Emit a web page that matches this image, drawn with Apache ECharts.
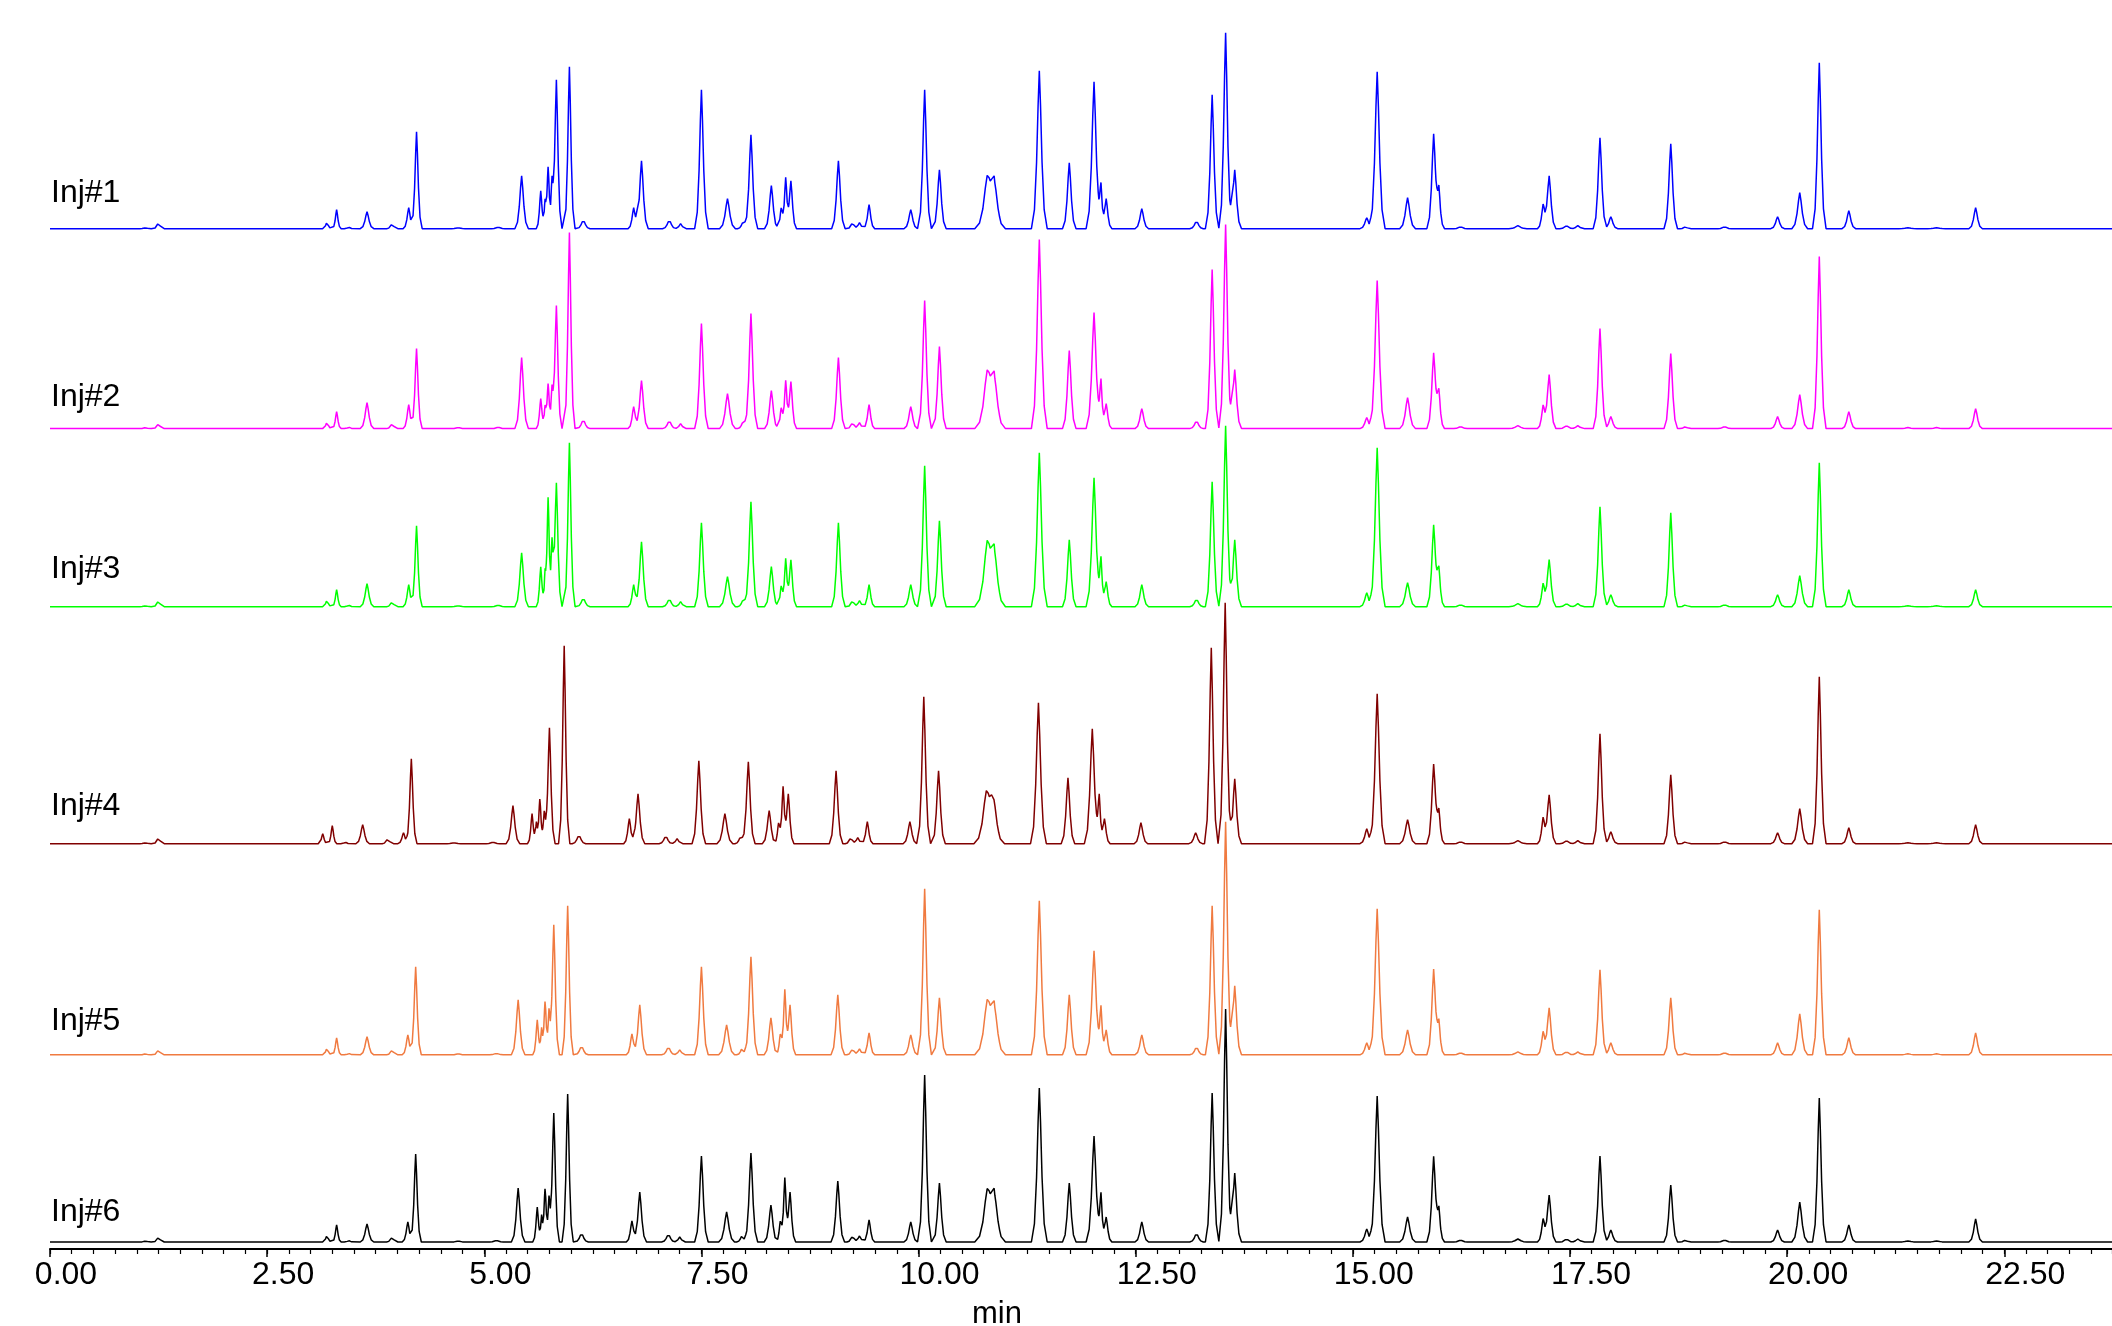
<!DOCTYPE html>
<html>
<head>
<meta charset="utf-8">
<script src="https://cdn.jsdelivr.net/npm/echarts@6/dist/echarts.min.js"></script>
<style>html,body{margin:0;padding:0;background:#fff}#c{width:2112px;height:1326px}</style>
</head>
<body>
<div id="c"></div>
<script>
// ---------------- data ----------------
const traceNames = ['Inj#1', 'Inj#2', 'Inj#3', 'Inj#4', 'Inj#5', 'Inj#6'];
const xTickLabels = ['0.00', '2.50', '5.00', '7.50', '10.00', '12.50', '15.00', '17.50', '20.00', '22.50'];
const axisName = 'min';

// retention times (min) of the peaks
const peakTimes = [1.10,1.25,3.19,3.30,3.44,3.65,3.94,4.13,4.22,4.70,
  5.16,5.43,5.65,5.70,5.735,5.78,5.83,5.98,6.14,6.72,
  6.81,7.13,7.26,7.50,7.80,7.98,8.07,8.305,8.42,8.47,
  8.53,9.077,9.24,9.32,9.43,9.91,10.07,10.24,10.79,10.87,
  11.39,11.735,12.02,12.10,12.16,12.57,13.20,13.38,13.535,13.64,
  15.16,15.28,15.63,15.93,15.99,16.24,16.90,17.19,17.26,17.46,
  17.59,17.845,17.97,18.66,18.83,19.28,19.89,20.145,20.37,20.71,
  21.39,21.72,22.17];
const peakTimesInj4 = [1.10,1.25,3.14,3.25,3.40,3.60,3.89,4.07,4.16,4.65,
  5.10,5.33,5.55,5.60,5.64,5.69,5.75,5.92,6.09,6.67,
  6.77,7.09,7.22,7.47,7.77,7.95,8.04,8.28,8.39,8.44,
  8.50,9.05,9.22,9.30,9.41,9.90,10.06,10.23,10.78,10.86,
  11.38,11.72,12.00,12.08,12.14,12.56,13.19,13.37,13.53,13.64,
  15.16,15.28,15.63,15.93,15.99,16.24,16.90,17.19,17.26,17.46,
  17.59,17.845,17.97,18.66,18.83,19.28,19.89,20.145,20.37,20.71,
  21.39,21.72,22.17];
const peakTimesInj56 = [1.10,1.25,3.19,3.30,3.44,3.65,3.94,4.12,4.21,4.70,
  5.14,5.39,5.61,5.66,5.70,5.745,5.80,5.96,6.12,6.70,
  6.79,7.12,7.25,7.50,7.79,7.97,8.07,8.30,8.41,8.46,
  8.52,9.07,9.24,9.32,9.43,9.91,10.07,10.24,10.79,10.87,
  11.39,11.735,12.02,12.10,12.16,12.57,13.20,13.38,13.535,13.64,
  15.16,15.28,15.63,15.93,15.99,16.24,16.90,17.19,17.26,17.46,
  17.59,17.845,17.97,18.66,18.83,19.28,19.89,20.145,20.37,20.71,
  21.39,21.72,22.17];
// characteristic half width of each peak (min)
const peakHalfWidths = [.05,.05,.04,.04,.04,.06,.05,.05,.05,.06,
  .06,.06,.04,.03,.035,.035,.05,.05,.06,.05,
  .06,.06,.05,.06,.07,.05,.06,.06,.04,.04,
  .05,.06,.05,.05,.05,.06,.06,.06,.11,.10,
  .07,.06,.07,.04,.05,.06,.06,.06,.06,.06,
  .06,.07,.07,.06,.05,.06,.08,.05,.06,.06,
  .06,.06,.06,.06,.05,.06,.06,.07,.06,.06,
  .08,.08,.06];

// peak heights (signal units) for each injection
const heightsInj1 = [1,6,7,19,1.5,17,5,21,97,1,
  1.5,53,38,25,62,42,149,162,9,21,
  68,9,5,139,30,7,94,43,22,50,
  48,68,6,6,24,19,139,59,48,44,
  158,66,147,40,30,20,8,134,196,59,
  11,157,31,94,37,2,3,23,53,3,
  3,91,12,85,2,2,12,36,166,18,
  1,1,21];
const heightsInj2 = [1,5,7,17,1.5,26,5,24,80,1,
  1.5,71,30,20,45,35,123,196,9,22,
  48,8,5,105,35,7,115,38,22,47,
  47,71,6,6,24,22,128,82,53,48,
  189,78,116,45,25,20,8,159,204,59,
  11,148,31,75,35,2,3,22,54,3,
  3,100,12,75,2,2,12,34,172,17,
  1,1,20];
const heightsInj3 = [1,6,7,17,1.5,23,5,22,81,1,
  1.5,54,40,30,110,60,124,164,9,22,
  65,8,5,84,30,7,105,40,22,47,
  47,84,6,6,22,22,141,86,60,52,
  154,67,129,45,25,22,8,125,181,67,
  14,159,24,81,35,2,3,22,47,3,
  3,100,12,94,2,2,12,31,144,17,
  1,1,17];
const heightsInj4 = [1,6,10,18,1.5,19,5,11,85,1,
  1.5,38,30,20,46,30,116,198,9,25,
  50,8,5,83,30,7,82,33,22,56,
  50,73,6,6,22,22,147,73,48,42,
  141,66,115,45,25,21,11,196,241,65,
  15,150,24,79,30,2,3,25,49,3,
  3,110,12,69,2,2,11,35,167,16,
  1,1,19];
const heightsInj5 = [1,5,7,17,1.5,18,5,20,88,1,
  1.5,55,35,25,55,40,130,149,9,21,
  50,8,5,88,30,7,98,37,22,64,
  50,60,6,6,22,20,166,57,50,45,
  154,60,104,45,25,20,8,149,233,69,
  12,146,25,85,30,2,3,22,47,3,
  3,85,12,57,2,2,12,41,145,17,
  1,1,22];
const heightsInj6 = [1,5,7,17,1.5,18,5,20,88,1,
  1.5,54,35,25,55,40,129,148,9,21,
  50,8,5,86,30,7,89,37,22,63,
  50,61,6,6,22,20,167,59,48,45,
  154,59,106,45,25,20,9,149,233,69,
  13,146,25,85,30,2,3,22,47,3,
  3,86,12,57,2,2,12,40,144,17,
  1,1,23];
// vertical offset of each trace's baseline (signal units)
const baselineOffsets = [1020.3, 820.4, 642.3, 405.3, 194.2, 7];

// ---------------- presentation ----------------
const X_MIN = 0, X_MAX = 23.74, Y_MAX = 1249;
const traceColors = ['#0000ff', '#ff00ff', '#00ff00', '#800000', '#f07a40', '#000000'];
const labelRaise = [36, 31, 38, 38, 34, 30];
const FONT = '"Liberation Sans", Arial, sans-serif';
// peak profile (distance in half widths -> fraction of apex height)
const PROFILE = [[0, 1], [0.2, 0.78], [0.45, 0.42], [0.8, 0.12], [1.3, 0]];

const traceTimes = [peakTimes, peakTimes, peakTimes, peakTimesInj4, peakTimesInj56, peakTimesInj56];
const traceHeights = [heightsInj1, heightsInj2, heightsInj3, heightsInj4, heightsInj5, heightsInj6];

function profileAt(u) {
  if (u >= PROFILE[PROFILE.length - 1][0]) return 0;
  for (let j = 1; j < PROFILE.length; j++) {
    if (u <= PROFILE[j][0]) {
      const [u0, f0] = PROFILE[j - 1], [u1, f1] = PROFILE[j];
      return f0 + (f1 - f0) * (u - u0) / (u1 - u0);
    }
  }
  return 0;
}

function buildTrace(times, heights, base) {
  const xs = new Set([X_MIN, X_MAX]);
  times.forEach((t, i) => {
    const w = peakHalfWidths[i];
    PROFILE.forEach(([u]) => { xs.add(+(t - u * w).toFixed(5)); xs.add(+(t + u * w).toFixed(5)); });
  });
  const sorted = [...xs].sort((a, b) => a - b);
  return sorted.map(x => {
    let s = 0;
    times.forEach((t, i) => { s += heights[i] * profileAt(Math.abs(x - t) / peakHalfWidths[i]); });
    return [x, base + s];
  });
}

const chart = echarts.init(document.getElementById('c'), null, {renderer: 'canvas'});
const series = traceNames.map((name, k) => ({
  name: name,
  type: 'line',
  xAxisIndex: 0,
  yAxisIndex: 0,
  data: buildTrace(traceTimes[k], traceHeights[k], baselineOffsets[k]),
  showSymbol: false,
  symbol: 'none',
  silent: true,
  sampling: 'none',
  lineStyle: {color: traceColors[k], width: 1.5},
  z: 2 + k
}));

const labelRich = {
  s: {fontSize: 32, fontFamily: FONT, color: '#000', padding: [0, 0, 0, 32]},
  l: {fontSize: 32, fontFamily: FONT, color: '#000', padding: [0, 0, 0, 42]}
};

chart.setOption({
  animation: false,
  backgroundColor: '#ffffff',
  grid: {left: 50, right: 0, top: 0, bottom: 77, containLabel: false},
  xAxis: [{
    type: 'value', min: X_MIN, max: X_MAX, interval: 2.5, position: 'bottom',
    axisLine: {show: true, onZero: false, lineStyle: {color: '#000', width: 2}},
    axisTick: {show: true, length: 8, lineStyle: {color: '#000', width: 1.5}},
    splitLine: {show: false},
    axisLabel: {
      show: true, color: '#000', fontSize: 32, fontFamily: FONT, margin: 10,
      showMaxLabel: false, rich: labelRich,
      formatter: v => {
        const i = Math.round(v / 2.5);
        if (xTickLabels[i] === undefined || Math.abs(v - i * 2.5) > 1e-6) return '';
        const t = xTickLabels[i];
        return '{' + (t.length > 4 ? 'l' : 's') + '|' + t + '}';
      }
    }
  }, {
    type: 'value', min: X_MIN, max: X_MAX, interval: 0.25, position: 'bottom', offset: 0,
    axisLine: {show: false, onZero: false},
    axisTick: {show: true, length: 5, lineStyle: {color: '#000', width: 1.2}},
    axisLabel: {show: false},
    splitLine: {show: false}
  }],
  yAxis: {type: 'value', min: 0, max: Y_MAX, show: false},
  series: series
});

// labels placed through the chart's own coordinate conversion
const graphics = traceNames.map((name, k) => {
  const p = chart.convertToPixel({xAxisIndex: 0, yAxisIndex: 0}, [X_MIN, baselineOffsets[k]]);
  return {
    type: 'text', x: p[0] + 1, y: p[1] - labelRaise[k], z: 20,
    style: {text: name, font: '32px ' + FONT, fill: '#000', textVerticalAlign: 'middle', textAlign: 'left'}
  };
});
graphics.push({
  type: 'text', x: 997, y: 1299, z: 20,
  style: {text: axisName, font: '31px ' + FONT, fill: '#000', textAlign: 'center', textVerticalAlign: 'top'}
});
chart.setOption({graphic: graphics});
</script>
</body>
</html>
